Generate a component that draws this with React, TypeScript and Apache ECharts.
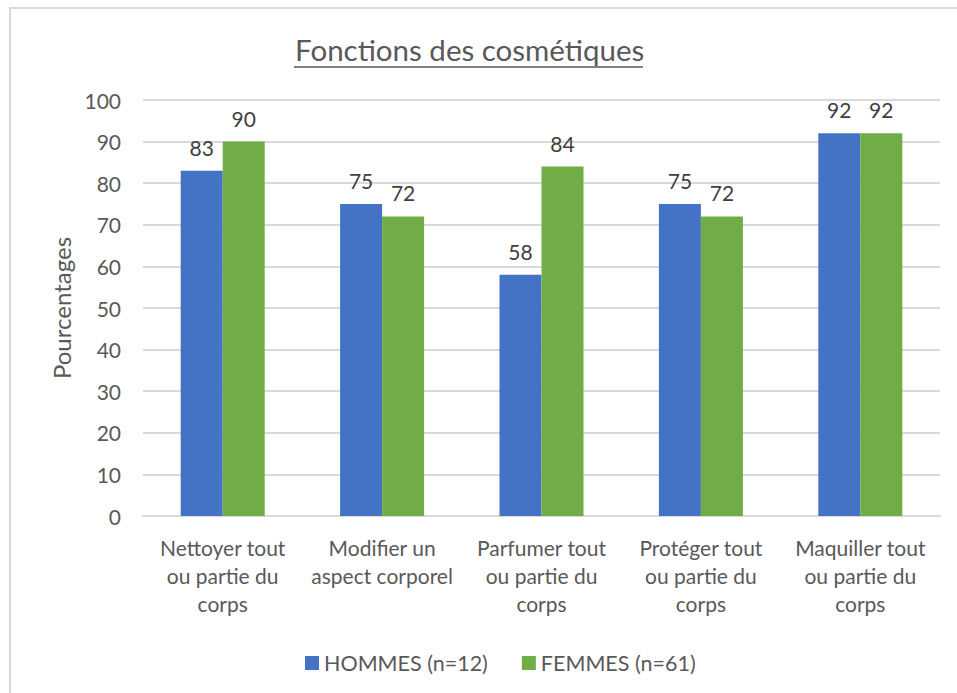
import React, { useEffect, useRef } from "react";
import * as echarts from "echarts";

const categories = [
  "Nettoyer tout\nou partie du\ncorps",
  "Modifier un\naspect corporel",
  "Parfumer tout\nou partie du\ncorps",
  "Protéger tout\nou partie du\ncorps",
  "Maquiller tout\nou partie du\ncorps",
];
const hommes = [83, 75, 58, 75, 92];
const femmes = [90, 72, 84, 72, 92];
const seriesNames = ["HOMMES (n=12)", "FEMMES (n=61)"];
const titleText = "Fonctions des cosmétiques";
const yAxisName = "Pourcentages";

const FONT = "Lato, 'Open Sans', sans-serif";
const TEXT = "#595959";

export default function App() {
  const ref = useRef<HTMLDivElement>(null);
  useEffect(() => {
    if (!ref.current) return;
    const chart = echarts.init(ref.current, undefined, { renderer: "svg" });
    const labelCfg = {
      show: true,
      position: "top" as const,
      distance: 13,
      fontSize: 21,
      color: "#404040",
      fontFamily: FONT,
    };
    chart.setOption({
      animation: false,
      backgroundColor: "#ffffff",
      textStyle: { fontFamily: FONT },
      graphic: [
        {
          type: "polyline",
          shape: { points: [[10, 700], [10, 8], [960, 8]] },
          style: { stroke: "#d9d9d9", lineWidth: 2, fill: "none" },
        },
        {
          type: "text",
          left: 295,
          top: 34,
          style: {
            text: titleText,
            fontSize: 29.5,
            fontFamily: FONT,
            fill: TEXT,
          },
        },
        {
          type: "line",
          shape: { x1: 294, y1: 67, x2: 643, y2: 67 },
          style: { stroke: TEXT, lineWidth: 1.5 },
        },
      ],
      legend: {
        data: seriesNames,
        top: 646,
        left: 300,
        itemWidth: 14,
        itemHeight: 14,
        itemGap: 34,
        icon: "rect",
        textStyle: { fontSize: 21.5, color: TEXT, fontFamily: FONT, lineHeight: 24 },
      },
      grid: { left: 143, right: 17, top: 100, bottom: 177, containLabel: false },
      xAxis: {
        type: "category",
        data: categories,
        axisLine: { lineStyle: { color: "#d9d9d9", width: 2 } },
        axisTick: { show: false },
        axisLabel: {
          fontSize: 21,
          color: TEXT,
          fontFamily: FONT,
          lineHeight: 28,
          margin: 17,
          interval: 0,
        },
      },
      yAxis: {
        type: "value",
        min: 0,
        max: 100,
        interval: 10,
        name: yAxisName,
        nameLocation: "middle",
        nameGap: 70,
        nameTextStyle: { fontSize: 24, color: TEXT, fontFamily: FONT },
        axisLine: { show: false },
        axisTick: { show: false },
        axisLabel: { fontSize: 21, color: TEXT, fontFamily: FONT, margin: 22 },
        splitLine: { lineStyle: { color: "#d9d9d9", width: 2 } },
      },
      series: [
        {
          name: seriesNames[0],
          type: "bar",
          data: hommes,
          barWidth: 42,
          barGap: "0%",
          itemStyle: { color: "#4472C4" },
          label: labelCfg,
        },
        {
          name: seriesNames[1],
          type: "bar",
          data: femmes,
          barWidth: 42,
          barGap: "0%",
          itemStyle: { color: "#70AD47" },
          label: labelCfg,
        },
      ],
    });
    return () => chart.dispose();
  }, []);
  return (
    <div
      ref={ref}
      style={{ position: "fixed", left: 0, top: 0, width: 957, height: 693 }}
    />
  );
}
